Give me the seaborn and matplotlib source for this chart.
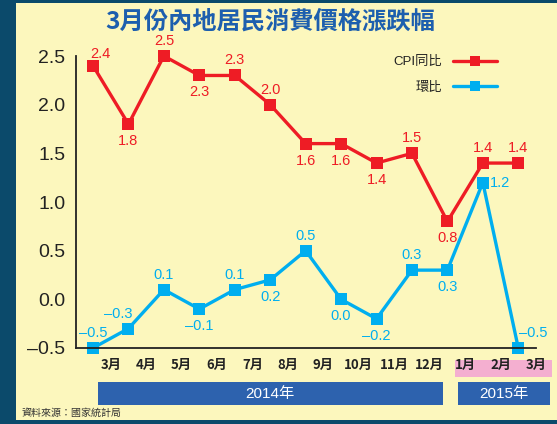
import matplotlib
matplotlib.use('Agg')
import matplotlib.pyplot as plt
from matplotlib.patches import Rectangle
from matplotlib.lines import Line2D
import seaborn as sns

# data
months = ['3月', '4月', '5月', '6月', '7月', '8月', '9月', '10月',
          '11月', '12月', '1月', '2月', '3月']
cpi_yoy = [2.4, 1.8, 2.5, 2.3, 2.3, 2.0, 1.6, 1.6, 1.4, 1.5, 0.8, 1.4, 1.4]
cpi_mom = [-0.5, -0.3, 0.1, -0.1, 0.1, 0.2, 0.5, 0.0, -0.2, 0.3, 0.3, 1.2, -0.5]
y_ticks = [-0.5, 0.0, 0.5, 1.0, 1.5, 2.0, 2.5]

# label placement (dx, dy in px, ha)
red_pos = [(7, 12, 'center'), (0, -17, 'center'), (0, 15, 'center'), (0, -17, 'center'),
           (0, 15, 'center'), (0, 15, 'center'), (0, -17, 'center'), (0, -17, 'center'),
           (0, -17, 'center'), (0, 15, 'center'), (0, -17, 'center'), (0, 15, 'center'),
           (0, 15, 'center')]
blue_pos = [(0, 15, 'center'), (-10, 15, 'center'), (0, 15, 'center'), (0, -17, 'center'),
            (0, 15, 'center'), (0, -17, 'center'), (0, 15, 'center'), (0, -17, 'center'),
            (0, -17, 'center'), (0, 15, 'center'), (0, -17, 'center'), (7, 0, 'left'),
            (1, 15, 'left')]

RED = '#ee1c25'
BLUE = '#00aeef'
BG = '#fcf7bd'
NAVY = '#0b4a6b'
BAR = '#2d62ae'
W, H = 557, 424

sns.set_style('white')
plt.rcParams['font.family'] = ['Liberation Sans', 'Noto Sans CJK TC', 'DejaVu Sans']

fig = plt.figure(figsize=(W / 100, H / 100), dpi=100, facecolor=BG)


def box(x0, y0, x1, y1, color, z=1):
    fig.add_artist(Rectangle((x0 / W, 1 - y1 / H), (x1 - x0) / W, (y1 - y0) / H,
                             transform=fig.transFigure, facecolor=color,
                             edgecolor='none', zorder=z))


# frame
box(0, 0, 16, H, NAVY)
box(0, 0, W, 3, NAVY)
box(0, 420, W, H, NAVY)
box(455, 360, 552, 377, '#f4afd0', z=-1)
box(98, 382, 443, 405, BAR)
box(458, 382, 550, 405, BAR)

ax = fig.add_axes([76 / W, 1 - 348 / H, (536 - 76) / W, (348 - 56) / H])
ax.set_facecolor('none')

x = list(range(len(months)))
sns.lineplot(x=x, y=cpi_yoy, ax=ax, color=RED, lw=2.4, marker='s', markersize=8,
             markeredgewidth=0, clip_on=False)
sns.lineplot(x=x, y=cpi_mom, ax=ax, color=BLUE, lw=2.4, marker='s', markersize=8,
             markeredgewidth=0, clip_on=False)

for vals, pos, col in [(cpi_yoy, red_pos, RED), (cpi_mom, blue_pos, BLUE)]:
    for i, (v, (dx, dy, ha)) in enumerate(zip(vals, pos)):
        ax.annotate(f'{v:.1f}'.replace('-', '–'), (i, v), xytext=(dx * 0.72, dy * 0.72),
                    textcoords='offset points', ha=ha, va='center', fontsize=10.5,
                    color=col, annotation_clip=False)

ax.set_xlim(-0.48, 12.5)
ax.set_ylim(-0.5, 2.5)
ax.set_xticks([i + 0.5 for i in x])
ax.set_xticklabels(months, fontsize=9.5, color='#222222', fontweight='bold',
                   family=['Noto Sans CJK TC', 'DejaVu Sans'])
ax.set_yticks(y_ticks)
ax.set_yticklabels([f'{v:.1f}'.replace('-', '–') for v in y_ticks], fontsize=14,
                   color='#222222')
ax.tick_params(axis='x', direction='in', length=4.5, width=1.2, color='#222222', pad=7.5)
ax.tick_params(axis='y', direction='out', length=4.5, width=1.2, color='#222222', pad=3)
for s in ['top', 'right']:
    ax.spines[s].set_visible(False)
for s in ['left', 'bottom']:
    ax.spines[s].set_color('#222222')
    ax.spines[s].set_linewidth(1.3)

handles = [Line2D([], [], color=RED, lw=2.4, marker='s', markersize=7, markeredgewidth=0),
           Line2D([], [], color=BLUE, lw=2.4, marker='s', markersize=7, markeredgewidth=0)]
leg = ax.legend(handles, ['CPI同比', '環比'], loc='upper right', bbox_to_anchor=(0.94, 1.04),
                frameon=False, markerfirst=False, handlelength=3.3, labelspacing=1.0,
                prop={'family': ['Liberation Sans', 'Noto Sans CJK TC'], 'size': 9.5})
for t in leg.get_texts():
    t.set_color('#222222')

# title and year labels
fig.text(270 / W, 1 - 22 / H, '3月份內地居民消費價格漲跌幅', ha='center', va='center',
         fontsize=17.5, fontweight='bold', color='#1d5fae',
         family=['Noto Sans CJK TC', 'DejaVu Sans'])
fig.text(270 / W, 1 - 394 / H, '2014年', ha='center', va='center', fontsize=11,
         color='white', family=['Liberation Sans', 'Noto Sans CJK TC'])
fig.text(504 / W, 1 - 394 / H, '2015年', ha='center', va='center', fontsize=11,
         color='white', family=['Liberation Sans', 'Noto Sans CJK TC'])
fig.text(22 / W, 1 - 413 / H, '資料來源：國家統計局', ha='left', va='center', fontsize=7.2,
         color='#333333', family=['Noto Sans CJK TC', 'DejaVu Sans'])

fig.savefig('out.png', dpi=100, facecolor=BG)
